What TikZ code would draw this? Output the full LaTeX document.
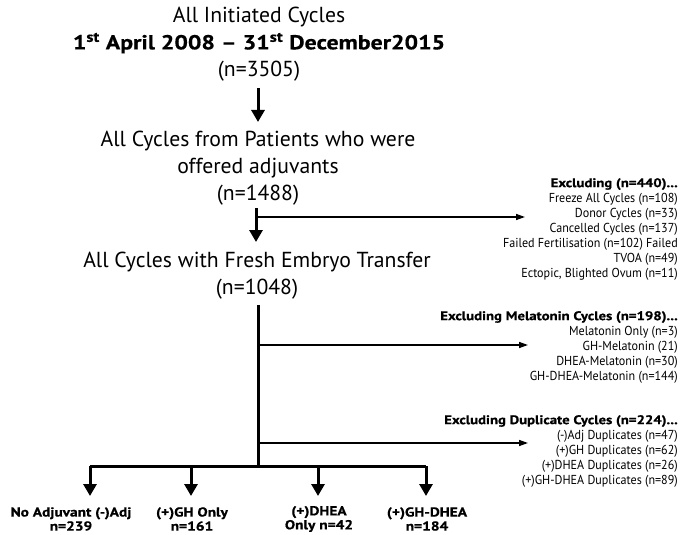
\documentclass[tikz,border=0pt]{standalone}
\usepackage{fontspec}
\setmainfont{PT Sans}
\newfontfamily\sidefont[FakeStretch=0.93,Ligatures=TeX]{PT Sans}
\newfontfamily\heavy[FakeStretch=1.18,FakeBold=0.6,Ligatures=TeX]{PT Sans}
\newcommand{\sidehead}[1]{{\heavy\bfseries\fontsize{12.5}{15}\selectfont #1}}
\usetikzlibrary{arrows.meta}
\begin{document}
\begin{tikzpicture}[x=1pt,y=-1pt,
  main/.style={align=center,inner sep=0pt,font=\fontsize{21.7}{27}\selectfont},
  side/.style={align=right,inner sep=0pt,anchor=north east,font=\sidefont\fontsize{13}{15}\selectfont},
  leaf/.style={align=center,inner sep=0pt,font=\heavy\bfseries\fontsize{13}{14}\selectfont},
  bigarrow/.style={line width=3pt,-{Triangle[width=13pt,length=12pt]}},
  bigline/.style={line width=3pt},
  thinarrow/.style={line width=1.4pt,-{Triangle[width=6pt,length=9pt]}}]
\useasboundingbox (0,0) rectangle (681,535);
\node[main] (n1) at (259,44) {All Initiated Cycles\\
  {\heavy\bfseries\fontsize{20.2}{27}\selectfont 1\textsuperscript{st} April 2008 – 31\textsuperscript{st} December2015}\\(n=3505)};
\node[main] (n2) at (258,168) {All Cycles from Patients who were\\offered adjuvants\\(n=1488)};
\node[main] (n3) at (257,276) {All Cycles with Fresh Embryo Transfer\\(n=1048)};
\node[side] (ex1) at (678,178) {\sidehead{Excluding (n=440)...}\\Freeze All Cycles (n=108)\\Donor Cycles (n=33)\\Cancelled Cycles (n=137)\\Failed Fertilisation (n=102) Failed\\TVOA (n=49)\\Ectopic, Blighted Ovum (n=11)};
\node[side] (ex2) at (678,311) {\sidehead{Excluding Melatonin Cycles (n=198)...}\\Melatonin Only (n=3)\\GH-Melatonin (21)\\DHEA-Melatonin (n=30)\\GH-DHEA-Melatonin (n=144)};
\node[side] (ex3) at (678,415) {\sidehead{Excluding Duplicate Cycles (n=224)...}\\(-)Adj Duplicates (n=47)\\(+)GH Duplicates (n=62)\\(+)DHEA Duplicates (n=26)\\(+)GH-DHEA Duplicates (n=89)};
\node[leaf] (l1) at (71,519) {No Adjuvant (-)Adj\\n=239};
\node[leaf] (l2) at (192,519) {(+)GH Only\\n=161};
\node[leaf] (l3) at (319,519) {(+)DHEA\\Only n=42};
\node[leaf] (l4) at (427,519) {(+)GH-DHEA\\n=184};
\coordinate (j1) at (256,217);
\coordinate (e1) at (525,217);
\coordinate (j2) at (258,345);
\coordinate (e2) at (528,345);
\coordinate (j3) at (258,443);
\coordinate (e3) at (528,443);
\coordinate (hub) at (258,466);
\coordinate (b1) at (90,466);
\coordinate (b2) at (191,466);
\coordinate (b3) at (318,466);
\coordinate (b4) at (426,466);
\draw[bigarrow] (258,88) -- (258,122);
\draw[bigarrow] (256,208) -- (256,242);
\draw[thinarrow] (j1) -- (e1);
\draw[bigline] (258,305) -- (hub);
\draw[thinarrow] (j2) -- (e2);
\draw[thinarrow] (j3) -- (e3);
\draw[bigline] (b1) -- (b4);
\draw[bigarrow] (b1) -- (b1 |- 0,496);
\draw[bigarrow] (b2) -- (b2 |- 0,496);
\draw[bigarrow] (b3) -- (b3 |- 0,496);
\draw[bigarrow] (b4) -- (b4 |- 0,496);
\end{tikzpicture}
\end{document}
